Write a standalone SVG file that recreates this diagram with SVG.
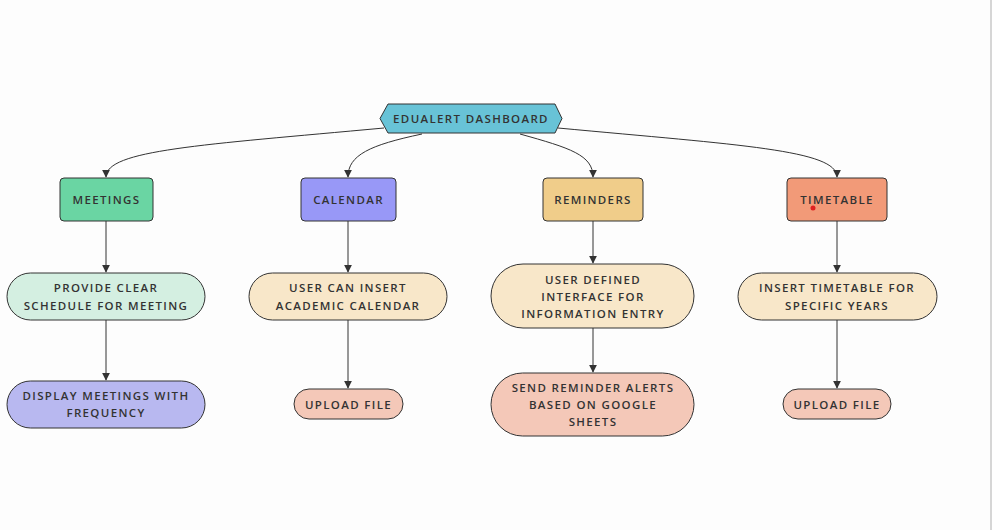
<svg xmlns="http://www.w3.org/2000/svg" width="992" height="530" viewBox="0 0 992 530">
<defs>
<marker id="arr" viewBox="0 0 10 10" refX="9" refY="5" markerWidth="8" markerHeight="8" markerUnits="userSpaceOnUse" orient="auto">
<path d="M0,0 L10,5 L0,10 z" fill="#333"/>
</marker>
<style>
.t{font-family:"Open Sans","DejaVu Sans",sans-serif;font-size:11.5px;font-weight:600;letter-spacing:1.35px;fill:#333;text-anchor:middle;dominant-baseline:central}
.n{stroke:#333;stroke-width:1}
.e{fill:none;stroke:#333;stroke-width:1;marker-end:url(#arr)}
</style>
</defs>
<rect width="992" height="530" fill="#fdfdfd"/>
<line x1="991" y1="0" x2="991" y2="530" stroke="#c8c8c8" stroke-width="1.5"/>
<g id="connectors">
<path class="e" d="M384,128 C200,145 106,150 106,177"/>
<path class="e" d="M422,134 C370,145 348,155 348,177"/>
<path class="e" d="M520,134 C570,148 593,155 593,177"/>
<path class="e" d="M558,128 C740,145 837,150 837,177"/>
<path class="e" d="M106,221 L106,272"/>
<path class="e" d="M106,320 L106,380"/>
<path class="e" d="M348,221 L348,272"/>
<path class="e" d="M348,320 L348,388"/>
<path class="e" d="M593,221 L593,263"/>
<path class="e" d="M593,328 L593,372"/>
<path class="e" d="M837,221 L837,272"/>
<path class="e" d="M837,320 L837,388"/>
</g>
<g id="dashboard">
<polygon class="n" points="380,118.5 388,104 555,104 562,118.5 555,133 388,133" fill="#68c3d7"/>
<text class="t" x="471" y="118">EDUALERT DASHBOARD</text>
</g>
<g id="meetings">
<rect class="n" x="60" y="178" width="93" height="43" rx="4" fill="#6ad5a3"/>
<text class="t" x="106.5" y="199">MEETINGS</text>
</g>
<g id="calendar">
<rect class="n" x="301" y="178" width="95" height="43" rx="4" fill="#9898f7"/>
<text class="t" x="348.5" y="199">CALENDAR</text>
</g>
<g id="reminders">
<rect class="n" x="543" y="178" width="100" height="43" rx="4" fill="#f0cd8a"/>
<text class="t" x="593" y="199">REMINDERS</text>
</g>
<g id="timetable">
<rect class="n" x="787" y="178" width="100" height="43" rx="4" fill="#f29a78"/>
<text class="t" x="837" y="199">TIMETABLE</text>
<circle cx="813" cy="208" r="2.5" fill="#e02020"/>
</g>
<g id="schedule">
<rect class="n" x="7" y="273" width="198" height="47" rx="23.5" fill="#d4efe1"/>
<text class="t" x="106" y="287">PROVIDE CLEAR</text>
<text class="t" x="106" y="305">SCHEDULE FOR MEETING</text>
</g>
<g id="insert-calendar">
<rect class="n" x="249" y="273" width="198" height="47" rx="23.5" fill="#f8e7c9"/>
<text class="t" x="348" y="287">USER CAN INSERT</text>
<text class="t" x="348" y="305">ACADEMIC CALENDAR</text>
</g>
<g id="interface">
<rect class="n" x="491" y="264" width="203" height="64" rx="32" fill="#f8e7c9"/>
<text class="t" x="593" y="279">USER DEFINED</text>
<text class="t" x="593" y="296">INTERFACE FOR</text>
<text class="t" x="593" y="313">INFORMATION ENTRY</text>
</g>
<g id="insert-timetable">
<rect class="n" x="738" y="273" width="199" height="47" rx="23.5" fill="#f8e7c9"/>
<text class="t" x="837" y="287">INSERT TIMETABLE FOR</text>
<text class="t" x="837" y="305">SPECIFIC YEARS</text>
</g>
<g id="display-meetings">
<rect class="n" x="7" y="381" width="198" height="47" rx="23.5" fill="#b8b8f0"/>
<text class="t" x="106" y="395">DISPLAY MEETINGS WITH</text>
<text class="t" x="106" y="412">FREQUENCY</text>
</g>
<g id="upload-calendar">
<rect class="n" x="294" y="389" width="109" height="30" rx="15" fill="#f4c8b8"/>
<text class="t" x="348.5" y="404">UPLOAD FILE</text>
</g>
<g id="send-alerts">
<rect class="n" x="491" y="373" width="203" height="63" rx="31.5" fill="#f4c8b8"/>
<text class="t" x="593" y="387">SEND REMINDER ALERTS</text>
<text class="t" x="593" y="404">BASED ON GOOGLE</text>
<text class="t" x="593" y="421">SHEETS</text>
</g>
<g id="upload-timetable">
<rect class="n" x="783" y="389" width="108" height="30" rx="15" fill="#f4c8b8"/>
<text class="t" x="837" y="404">UPLOAD FILE</text>
</g>
</svg>
